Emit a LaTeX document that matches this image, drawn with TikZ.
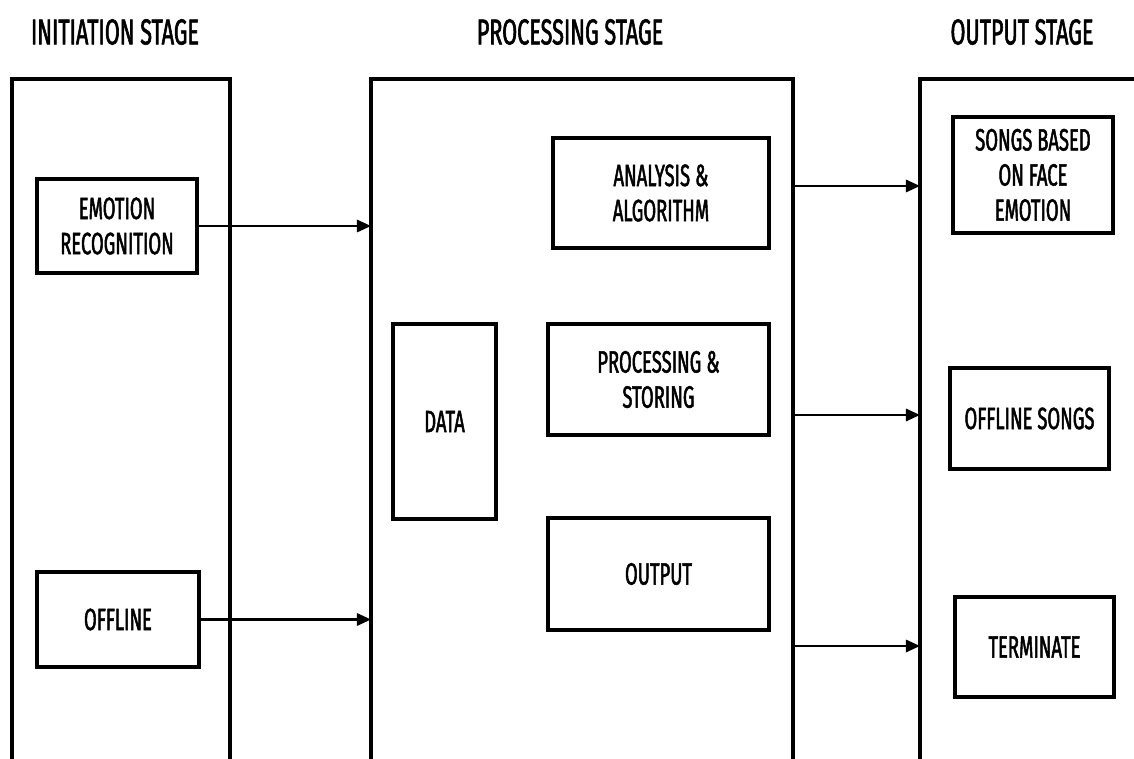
\documentclass[tikz,border=0pt]{standalone}
\usepackage{fontspec}
\setmainfont{Fira Sans}[FakeStretch=0.6, FakeBold=1.6]
\usetikzlibrary{arrows.meta}
\begin{document}
\begin{tikzpicture}[x=0.02cm, y=-0.02cm,
    stage/.style={line width=2pt},
    block/.style={rectangle, draw, line width=2pt, align=center, inner sep=0pt, font=\fontsize{17.5}{20}\selectfont},
    title/.style={font=\fontsize{20.5}{24}\selectfont},
    flow/.style={-{Triangle[length=8pt, width=7pt]}, line width=1.3pt}]

\useasboundingbox (0,0) rectangle (1134,759);

% Stages
\node [title] (tinit) at (115,32) {INITIATION STAGE};
\node [title] (tproc) at (570,32) {PROCESSING STAGE};
\node [title] (tout) at (1022,32) {OUTPUT STAGE};
\draw[stage] (12,759) |- (230,79) -- (230,759);
\draw[stage] (371,759) |- (793,79) -- (793,759);
\draw[stage] (920,759) |- (1134,79);
\coordinate (midL) at (371,79);
\coordinate (outL) at (920,79);

% Nodes
\node [block, minimum width=3.2cm, minimum height=1.88cm] (emo) at (117,226) {EMOTION\\RECOGNITION};
\node [block, minimum width=3.24cm, minimum height=1.9cm] (off) at (118,619.5) {OFFLINE};
\node [block, minimum width=2.06cm, minimum height=3.9cm] (data) at (444.5,421.5) {DATA};
\node [block, minimum width=4.32cm, minimum height=2.2cm] (ana) at (661,193) {ANALYSIS \&\\ALGORITHM};
\node [block, minimum width=4.42cm, minimum height=2.22cm] (proc) at (658.5,379.5) {PROCESSING \&\\STORING};
\node [block, minimum width=4.42cm, minimum height=2.24cm] (outp) at (658.5,574) {OUTPUT};
\node [block, minimum width=3.2cm, minimum height=2.32cm] (songs) at (1033,175) {SONGS BASED\\ON FACE\\EMOTION};
\node [block, minimum width=3.18cm, minimum height=2.02cm] (offs) at (1029.5,418.5) {OFFLINE SONGS};
\node [block, minimum width=3.18cm, minimum height=2cm] (term) at (1034.5,647) {TERMINATE};

% Arrows
\coordinate (a1) at (793,186);
\coordinate (a2) at (793,415);
\coordinate (a3) at (793,646);
\draw[flow] (emo.east) -- (emo.east -| midL);
\draw[flow] (off.east) -- (off.east -| midL);
\draw[flow] (a1) -- (a1 -| outL);
\draw[flow] (a2) -- (a2 -| outL);
\draw[flow] (a3) -- (a3 -| outL);

\end{tikzpicture}
\end{document}
